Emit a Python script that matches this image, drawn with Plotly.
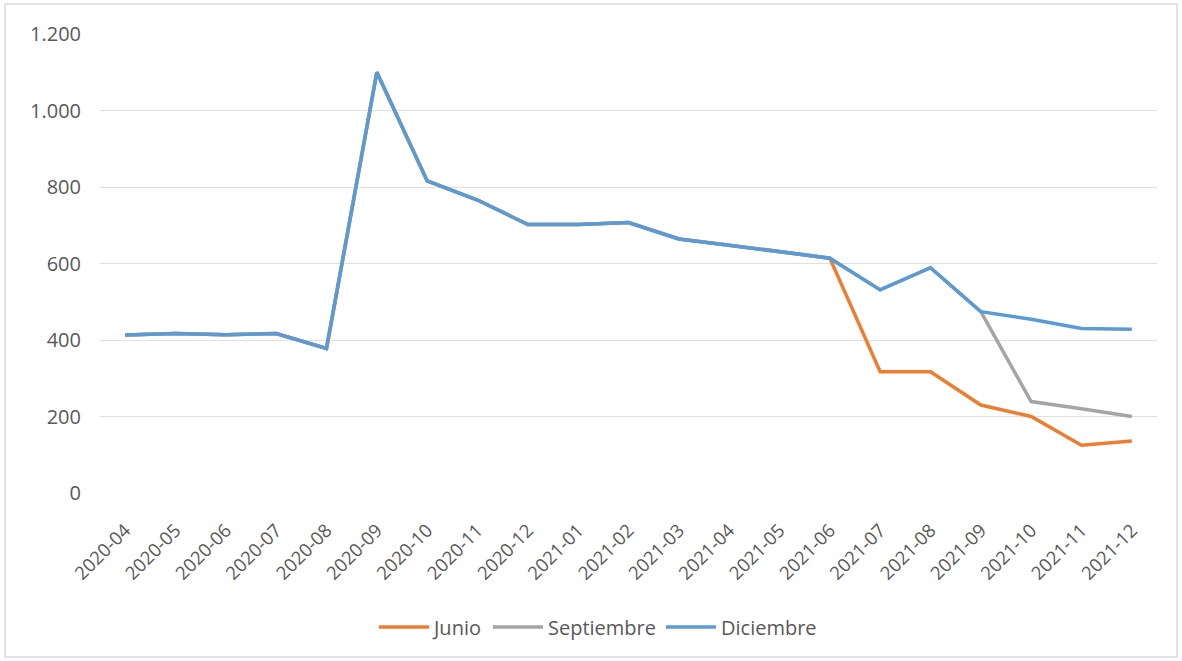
import plotly.graph_objects as go

months = ["2020-04", "2020-05", "2020-06", "2020-07", "2020-08", "2020-09", "2020-10",
          "2020-11", "2020-12", "2021-01", "2021-02", "2021-03", "2021-04", "2021-05",
          "2021-06", "2021-07", "2021-08", "2021-09", "2021-10", "2021-11", "2021-12"]

diciembre = [413, 417, 414, 417, 378, 1100, 816, 766, 702, 702, 707, 664, 648, 631,
             614, 531, 589, 474, 454, 430, 428]
septiembre = [413, 417, 414, 417, 378, 1100, 816, 766, 702, 702, 707, 664, 648, 631,
              614, 531, 589, 474, 239, 220, 200]
junio = [413, 417, 414, 417, 378, 1100, 816, 766, 702, 702, 707, 664, 648, 631,
         614, 317, 317, 230, 200, 125, 136]

y_ticks = [0, 200, 400, 600, 800, 1000, 1200]

W, H = 1182, 661
L, R, T, B = 100, 25, 34, 168
FONT = "Open Sans"
TXT = "#595959"

fig = go.Figure()
for name, vals, col in [("Junio", junio, "#ED7D31"),
                        ("Septiembre", septiembre, "#A5A5A5"),
                        ("Diciembre", diciembre, "#5B9BD5")]:
    fig.add_trace(go.Scatter(x=months, y=vals, name=name, mode="lines",
                             line=dict(color=col, width=3.5)))

pw = W - L - R
ph = H - T - B
def px(x):
    return (x - L) / pw
def py(y):
    return (H - B - y) / ph

fig.add_shape(type="rect", xref="paper", yref="paper",
              x0=px(5), x1=px(1177), y0=py(4), y1=py(657),
              line=dict(color="#D9D9D9", width=1.5), fillcolor="rgba(0,0,0,0)", layer="below")

fig.update_layout(
    width=W, height=H,
    margin=dict(l=L, r=R, t=T, b=B),
    paper_bgcolor="white", plot_bgcolor="white",
    separators=",.",
    font=dict(family=FONT, color=TXT, size=20),
    showlegend=True,
    legend=dict(orientation="h", x=px(598), xanchor="center", y=py(627), yanchor="middle",
                font=dict(size=20, color=TXT), itemwidth=50, traceorder="normal"),
    xaxis=dict(type="category", categoryorder="array", categoryarray=months,
               tickangle=-45, showgrid=False, showline=False, zeroline=False,
               ticks="", tickfont=dict(size=18.5, color=TXT), ticklabelstandoff=22,
               range=[-0.5, len(months) - 0.5]),
    yaxis=dict(range=[0, 1200], tickvals=y_ticks, tickformat=",d",
               showgrid=True, gridcolor="#E0E0E0", gridwidth=1.3,
               zeroline=False, showline=False, ticks="",
               tickfont=dict(size=20, color=TXT), ticklabelstandoff=18),
)

fig.write_html("out.html", config={"displayModeBar": False},
               post_script="document.body.style.margin='0';")
